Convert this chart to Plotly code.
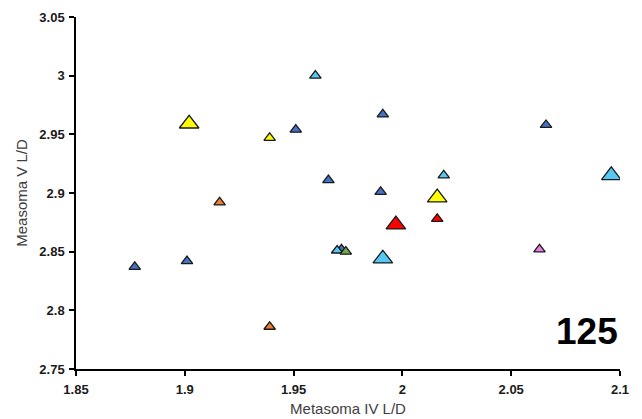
import plotly.graph_objects as go

# data: (x, y, color group, size class)
x_vals = [1.902, 1.960, 1.939, 1.951, 1.916, 1.991, 2.066, 1.966, 1.990, 2.019,
          2.016, 2.096, 1.997, 2.016, 1.970, 1.972, 1.974, 1.991, 2.063, 1.877,
          1.901, 1.939]
y_vals = [2.959, 3.000, 2.947, 2.954, 2.892, 2.967, 2.958, 2.911, 2.901, 2.915,
          2.896, 2.915, 2.873, 2.878, 2.851, 2.852, 2.850, 2.844, 2.852, 2.837,
          2.842, 2.786]
groups = ["yellow", "cyan", "yellow", "blue", "orange", "blue", "blue", "blue", "blue", "cyan",
          "yellow", "cyan", "red", "red", "cyan", "blue", "green", "cyan", "pink", "blue",
          "blue", "orange"]
big = [1, 0, 0, 0, 0, 0, 0, 0, 0, 0,
       1, 1, 1, 0, 0, 0, 0, 1, 0, 0,
       0, 0]

colors = {
    "blue": "#4472C4",
    "cyan": "#56C8F2",
    "yellow": "#FFFF00",
    "red": "#FF0000",
    "orange": "#ED7D31",
    "green": "#70AD47",
    "pink": "#E57FE6",
}
x_ticks = [1.85, 1.9, 1.95, 2.0, 2.05, 2.1]
x_tick_text = ["1.85", "1.9", "1.95", "2", "2.05", "2.1"]
y_ticks = [2.75, 2.8, 2.85, 2.9, 2.95, 3.0, 3.05]
y_tick_text = ["2.75", "2.8", "2.85", "2.9", "2.95", "3", "3.05"]

fig = go.Figure()
order = ["blue", "cyan", "yellow", "orange", "red", "green", "pink"]
for g in order:
    idx = [i for i, gg in enumerate(groups) if gg == g]
    fig.add_trace(go.Scatter(
        x=[x_vals[i] for i in idx],
        y=[y_vals[i] for i in idx],
        mode="markers",
        marker=dict(symbol="triangle-up",
                    size=[17 if big[i] else 10 for i in idx],
                    color=colors[g], opacity=1,
                    line=dict(color="#1a1a1a", width=1.3)),
        showlegend=False,
        hoverinfo="x+y",
    ))

font_family = "Liberation Sans, Arial, sans-serif"
fig.update_layout(
    width=642, height=419,
    margin=dict(l=76, r=22, t=17, b=50),
    paper_bgcolor="white", plot_bgcolor="white",
    font=dict(family=font_family, color="#000000"),
    xaxis=dict(range=[1.85, 2.1], tickvals=x_ticks, ticktext=x_tick_text,
               showgrid=False, zeroline=False, showline=True, linecolor="#000000",
               linewidth=1.5, ticks="outside", ticklen=5, tickcolor="#000000",
               tickwidth=1.5, ticklabelstandoff=3, automargin=False,
               tickfont=dict(size=13, family=font_family, weight="bold", color="#1a1a1a"),
               title=dict(text="Metasoma IV L/D", standoff=7,
                          font=dict(size=15, color="#404040", family=font_family))),
    yaxis=dict(range=[2.75, 3.05], tickvals=y_ticks, ticktext=y_tick_text,
               showgrid=False, zeroline=False, showline=True, linecolor="#000000",
               linewidth=1.5, ticks="outside", ticklen=5, tickcolor="#000000",
               tickwidth=1.5, ticklabelstandoff=2, automargin=False,
               tickfont=dict(size=13, family=font_family, weight="bold", color="#1a1a1a"),
               title=dict(text="Measoma V L/D", standoff=8,
                          font=dict(size=15, color="#404040", family=font_family))),
    annotations=[dict(text="<b>125</b>", x=1, y=0.042, xref="paper", yref="paper",
                      xanchor="right", yanchor="bottom", showarrow=False,
                      font=dict(size=37, color="#000000", family=font_family))],
)

fig.write_html("out.html")
